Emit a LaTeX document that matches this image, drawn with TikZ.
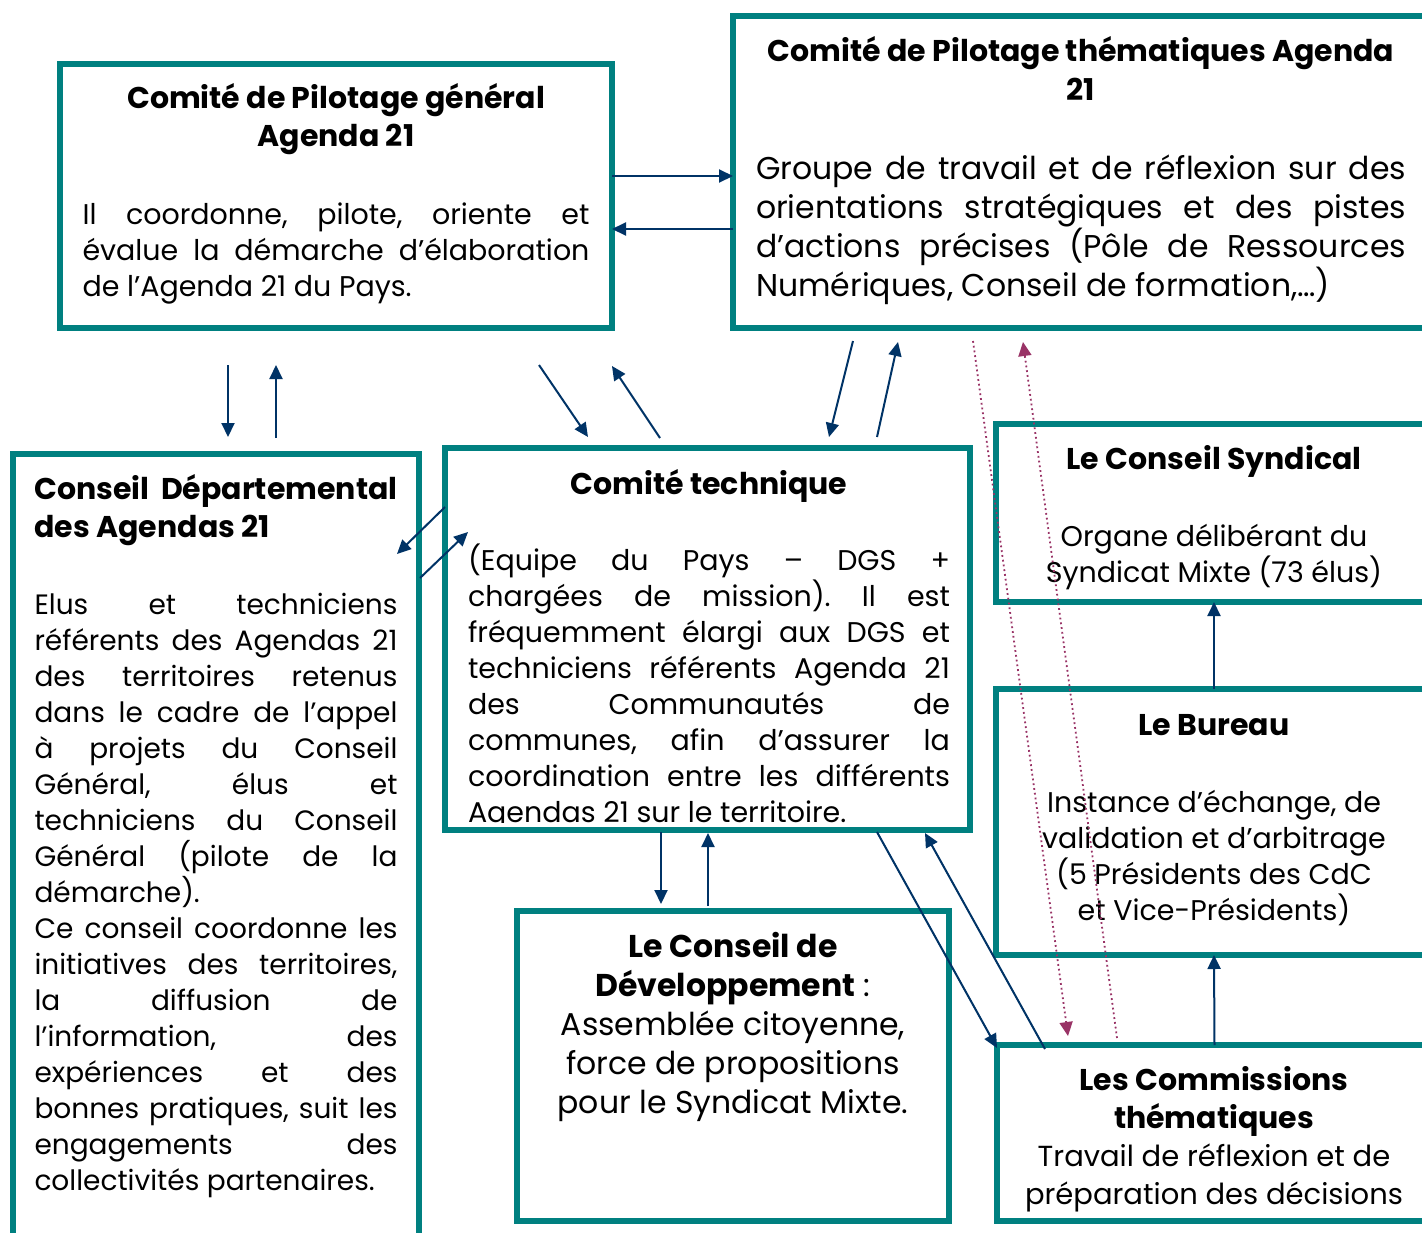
\documentclass[tikz,border=0pt]{standalone}
\usepackage{fontspec}
\setmainfont{Poppins}
\usetikzlibrary{arrows.meta,calc}
\tikzset{>={Triangle[length=14pt,width=13pt]}}
\colorlet{background}{white}
\definecolor{cadreColor}{RGB}{0,128,128}
\definecolor{penColor}{RGB}{0,51,102}
\definecolor{penColor2}{RGB}{153,51,102}
\newcommand{\petit}{\fontsize{28.5}{36}\selectfont\mdseries}
\newcommand{\serre}{\fontsize{28}{36}\selectfont\mdseries}
\newcommand{\grand}{\fontsize{31.5}{39}\selectfont\mdseries}
\newcommand{\titre}{\fontsize{30}{38}\selectfont\bfseries}
\tolerance=10000 \hbadness=10000 \hyphenpenalty=10000 \exhyphenpenalty=10000
\frenchspacing
\tikzset{
	cadre/.style={draw=cadreColor,line width=6pt,inner sep=0pt,outer sep=0pt},
	texte/.style={anchor=base,inner sep=0pt,outer sep=0pt},
	fleche/.style={->,penColor,line width=2pt},
	renvoi/.style={->,penColor2,line width=1.8pt,dash pattern=on 1.8pt off 3pt}
}

\begin{document}
\begin{tikzpicture}[x=1pt,y=-1pt]
	\useasboundingbox (0,0) rectangle (1422,1232);
	\clip (0,0) rectangle (1422,1232);
	% textes
	\node[texte] (cpg-t) at (336,108) {\parbox[t]{507pt}{{\titre\centering Comité de Pilotage général\\Agenda 21\par}\vspace{42pt}\petit Il coordonne, pilote, oriente et\linebreak évalue la démarche d’élaboration\linebreak de l’Agenda 21 du Pays.}};
	\node[texte] (cpt-t) at (1081,61) {\parbox[t]{650pt}{{\titre\baselineskip=39pt\centering Comité de Pilotage thématiques Agenda\\21\par}\vspace{40pt}\grand Groupe de travail et de réflexion sur des\linebreak orientations stratégiques et des pistes\linebreak d’actions précises (Pôle de Ressources\linebreak Numériques, Conseil de formation,…)}};
	\node[texte] (cdep-t) at (216,499) {\parbox[t]{363pt}{{\titre Conseil Départemental\linebreak des Agendas 21\par}\vspace{41pt}\serre Elus et techniciens\linebreak référents des Agendas 21\linebreak des territoires retenus\linebreak dans le cadre de l’appel\linebreak à projets du Conseil\linebreak Général, élus et\linebreak techniciens du Conseil\linebreak Général (pilote de la\linebreak démarche).\par Ce conseil coordonne les\linebreak initiatives des territoires,\linebreak la diffusion de\linebreak l’information, des\linebreak expériences et des\linebreak bonnes pratiques, suit les\linebreak engagements des\linebreak collectivités partenaires.}};
	\begin{scope}
		\clip (445,448) rectangle (970,822);
		\node[texte] (ctech-t) at (709,494) {\parbox[t]{482pt}{{\titre\centering Comité technique\par}\vspace{40pt}\petit (Equipe du Pays – DGS +\linebreak chargées de mission). Il est\linebreak fréquemment élargi aux DGS et\linebreak techniciens référents Agenda 21\linebreak des Communautés de\linebreak communes, afin d’assurer la\linebreak coordination entre les différents\linebreak Agendas 21 sur le territoire.}};
	\end{scope}
	\node[texte] (csyn-t) at (1214,469) {\parbox[t]{420pt}{{\titre\centering Le Conseil Syndical\par}\vspace{41pt}{\petit\centering Organe délibérant du\\Syndicat Mixte (73 élus)\par}}};
	\node[texte] (bureau-t) at (1214,735) {\parbox[t]{420pt}{{\titre\centering Le Bureau\par}\vspace{41pt}{\petit\centering Instance d’échange, de\\validation et d’arbitrage\\(5 Présidents des CdC\\et Vice-Présidents)\par}}};
	\node[texte] (cdev-t) at (733,957) {\parbox[t]{420pt}{{\grand\centering\textbf{Le Conseil de}\\\textbf{Développement} :\\Assemblée citoyenne,\\force de propositions\\pour le Syndicat Mixte.\par}}};
	\node[texte] (comm-t) at (1214,1090) {\parbox[t]{420pt}{{\titre\centering Les Commissions\\thématiques\par}{\fontsize{29}{38}\selectfont\mdseries\centering Travail de réflexion et de\\préparation des décisions\par}}};
	% cadres
	\node[cadre,minimum width=552pt,minimum height=264pt] (cpg) at (336,196) {};
	\node[cadre,minimum width=699pt,minimum height=312pt] (cpt) at (1082.5,172) {};
	\node[cadre,minimum width=406pt,minimum height=806pt] (cdep) at (216,857) {};
	\node[cadre,minimum width=525pt,minimum height=382pt] (ctech) at (707.5,639) {};
	\node[cadre,minimum width=436pt,minimum height=178pt] (csyn) at (1214,513) {};
	\node[cadre,minimum width=436pt,minimum height=266pt] (bureau) at (1214,822) {};
	\node[cadre,minimum width=432pt,minimum height=310pt] (cdev) at (733,1066) {};
	\node[cadre,minimum width=435pt,minimum height=176pt] (comm) at (1214.5,1133) {};
	% liens
	\draw[fleche] ($(cpg.north east)+(0,112)$) -- ($(cpt.north west)+(0,160)$);
	\draw[fleche] ($(cpt.north west)+(0,213)$) -- ($(cpg.north east)+(0,165)$);
	\draw[fleche] ($(cpg.south west)+(168,37)$) -- ($(cdep.north west)+(215,-17)$);
	\draw[fleche] ($(cdep.north west)+(263,-16)$) -- ($(cpg.south west)+(216,37)$);
	\draw[fleche] ($(cpg.south west)+(479,37)$) -- ($(ctech.north west)+(143,-11)$);
	\draw[fleche] ($(ctech.north west)+(215,-10)$) -- ($(cpg.south east)+(0,38)$);
	\draw[fleche] ($(cpt.south west)+(120,13)$) -- ($(ctech.north west)+(384,-11)$);
	\draw[fleche] ($(ctech.north west)+(432,-11)$) -- ($(cpt.south west)+(165,14)$);
	\draw[fleche] ($(ctech.north west)+(0,59)$) -- ($(cdep.north east)+(-22,100)$);
	\draw[fleche] ($(cdep.north east)+(1,124)$) -- ($(ctech.north west)+(23,84)$);
	\draw[fleche] ($(ctech.south west)+(216,2)$) -- ($(cdev.north west)+(144,-7)$);
	\draw[fleche] ($(cdev.north west)+(191,-5)$) -- ($(ctech.south west)+(263,3)$);
	\draw[fleche] ($(ctech.south west)+(432,2)$) -- ($(comm.north west)+(0,3)$);
	\draw[fleche] ($(comm.north west)+(48,4)$) -- ($(ctech.south west)+(480,3)$);
	\draw[fleche] (bureau.north) -- (csyn.south);
	\draw[fleche] (comm.north) -- (bureau.south);
	\draw[renvoi] ($(cpt.south west)+(240,13)$) -- ($(comm.north west)+(71,-9)$);
	\draw[renvoi] ($(comm.north west)+(120,-7)$) -- ($(cpt.south west)+(290,14)$);
\end{tikzpicture}
\end{document}
